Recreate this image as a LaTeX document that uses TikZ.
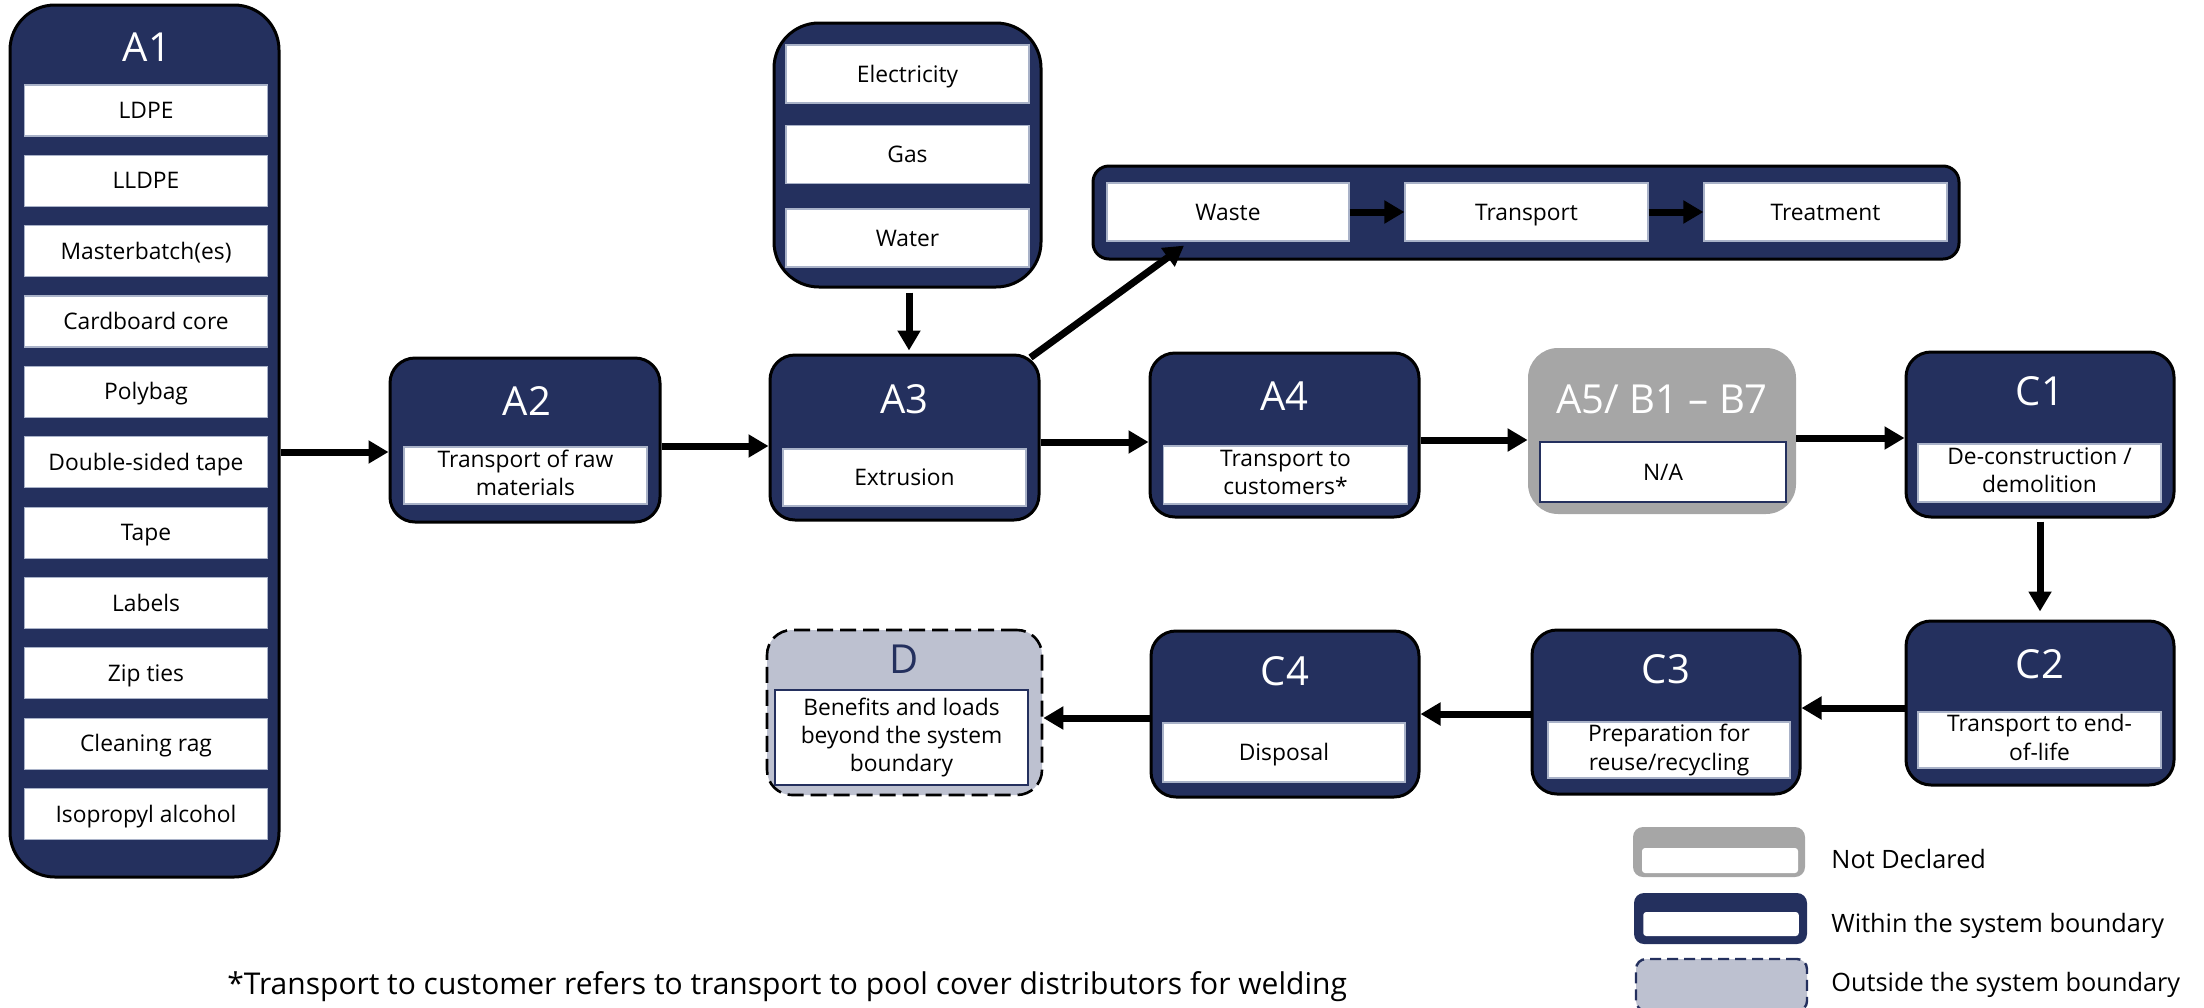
\documentclass[tikz,border=0pt]{standalone}
\usepackage{fontspec}
\setmainfont{Open Sans}
\usetikzlibrary{arrows.meta,calc}
\definecolor{navy}{HTML}{24305E}
\definecolor{ndgray}{HTML}{A6A6A6}
\definecolor{outfill}{HTML}{BDC1D0}
\definecolor{wborder}{HTML}{A9B2C8}
\newcommand\boxstrut{\rule[-2.7pt]{0pt}{13.5pt}}
\begin{document}
\begin{tikzpicture}[x=0.5pt,y=-0.5pt,
  stage/.style={draw=black,line width=1.5pt,fill=navy,rounded corners=12.5pt,inner sep=0pt},
  wbox/.style={draw=wborder,line width=0.6pt,fill=white,inner sep=0pt,align=center,text=black,font=\fontsize{11.4}{14.2}\selectfont,execute at begin node=\boxstrut,execute at end node=\boxstrut},
  nbox/.style={wbox,draw=navy,line width=1.2pt},
  ttl/.style={text=white,inner sep=0pt,anchor=base,font=\fontsize{20}{24}\selectfont},
  arr/.style={line width=3.5pt,-{Triangle[length=10pt,width=11pt]}},
  legtext/.style={anchor=base west,inner sep=0pt,text=black,font=\fontsize{12.65}{15}\selectfont}]
\useasboundingbox (0,0) rectangle (2204,1007);

% A1
\node[stage,rounded corners=22.5pt,minimum width=134.5pt,minimum height=436pt] (A1) at (144.5,441) {};
\node[ttl] (A1t) at (147,61) {A1};
\foreach \t [count=\i] in {LDPE,LLDPE,Masterbatch(es),Cardboard core,Polybag,Double-sided tape,Tape,Labels,Zip ties,Cleaning rag,Isopropyl alcohol}
  \node[wbox,minimum width=121.5pt,minimum height=25.5pt] (A1i\i) at (146,{110.5+70.35*(\i-1)}) {\t};

% utilities
\node[stage,rounded corners=22.5pt,minimum width=133.5pt,minimum height=132pt] (U) at (907.5,155) {};
\node[wbox,minimum width=121.5pt,minimum height=29pt] (U1) at (907.5,74) {Electricity};
\node[wbox,minimum width=121.5pt,minimum height=29pt] (U2) at (907.5,154.5) {Gas};
\node[wbox,minimum width=121.5pt,minimum height=29pt] (U3) at (907.5,238) {Water};

% waste container
\node[stage,rounded corners=8pt,minimum width=433pt,minimum height=46.5pt] (WC) at (1526,212.5) {};
\node[wbox,minimum width=121pt,minimum height=29pt] (W1) at (1228,212) {Waste};
\node[wbox,minimum width=121.5pt,minimum height=29pt] (W2) at (1526.5,212) {Transport};
\node[wbox,minimum width=121.5pt,minimum height=29pt] (W3) at (1825.5,212) {Treatment};

% A2
\node[stage,minimum width=135pt,minimum height=82pt] (A2) at (525,440) {};
\node[ttl] (A2t) at (527,415) {A2};
\node[wbox,minimum width=121.5pt,minimum height=28.5pt] (A2w) at (525.5,475.5) {Transport of raw\\materials};

% A3
\node[stage,minimum width=134.5pt,minimum height=82.5pt] (A3) at (904.5,437.5) {};
\node[ttl] (A3t) at (904.5,413) {A3};
\node[wbox,minimum width=121.5pt,minimum height=28.5pt] (A3w) at (904.5,477.5) {Extrusion};

% A4
\node[stage,minimum width=134.5pt,minimum height=82pt] (A4) at (1284.5,435) {};
\node[ttl] (A4t) at (1284.5,410) {A4};
\node[wbox,minimum width=122pt,minimum height=29pt] (A4w) at (1285.5,475) {Transport to\\customers*};

% A5
\node[fill=ndgray,rounded corners=15pt,inner sep=0pt,minimum width=134pt,minimum height=83pt] (A5) at (1662,431) {};
\node[ttl] (A5t) at (1662,413) {A5/ B1 – B7};
\node[nbox,minimum width=123pt,minimum height=30pt] (A5w) at (1663,472) {N/A};

% C1
\node[stage,minimum width=134pt,minimum height=82.5pt] (C1) at (2040,434.5) {};
\node[ttl] (C1t) at (2040,405) {C1};
\node[wbox,minimum width=121.5pt,minimum height=29pt] (C1w) at (2039.5,473) {De-construction /\\demolition};

% C2
\node[stage,minimum width=134pt,minimum height=82pt] (C2) at (2040,703) {};
\node[ttl] (C2t) at (2040,678) {C2};
\node[wbox,minimum width=121.5pt,minimum height=28pt] (C2w) at (2039.5,740) {Transport to end-\\of-life};

% C3
\node[stage,minimum width=134pt,minimum height=82pt] (C3) at (1666,712) {};
\node[ttl] (C3t) at (1666,683) {C3};
\node[wbox,minimum width=121pt,minimum height=28pt] (C3w) at (1669,750) {Preparation for\\reuse/recycling};

% C4
\node[stage,minimum width=134pt,minimum height=83pt] (C4) at (1285,714) {};
\node[ttl] (C4t) at (1285,685) {C4};
\node[wbox,minimum width=121pt,minimum height=29.5pt] (C4w) at (1284,752.5) {Disposal};

% D
\node[draw=black,line width=1.3pt,dash pattern=on 8pt off 3.5pt,fill=outfill,rounded corners=12.5pt,inner sep=0pt,minimum width=137.5pt,minimum height=82.5pt] (D) at (904.5,712.5) {};
\node[ttl,text=navy] (Dt) at (904.5,673) {D};
\node[nbox,minimum width=126.5pt,minimum height=47.5pt] (Dw) at (901.5,737.5) {Benefits and loads\\beyond the system\\boundary};

% arrows
\draw[arr] ($(A1.east)+(0,11)$) -- ($(A2.west)+(0,12)$);
\draw[arr] ($(A2.east)+(0,6)$) -- ($(A3.west)+(0,8.5)$);
\draw[arr] ($(A3.east)+(0,4.5)$) -- ($(A4.west)+(0,7)$);
\draw[arr] ($(A4.east)+(0,5)$) -- ($(A5.west)+(0,9)$);
\draw[arr] ($(A5.east)+(0,7)$) -- ($(C1.west)+(0,3.5)$);
\draw[arr] ($(C1.south)+(0,3)$) -- ($(C2.north)+(0,-8)$);
\draw[arr] ($(C2.west)+(0,5)$) -- ($(C3.east)+(0,-4)$);
\draw[arr] ($(C3.west)+(0,2)$) -- ($(C4.east)+(0,0)$);
\draw[arr] ($(C4.west)+(0,4)$) -- ($(D.east)+(0,5.5)$);
\draw[arr] ($(U.south)+(1.5,4)$) -- ($(A3.north)+(4.5,-3)$);
\draw[arr] ($(A3.north east)+(-10,4)$) -- ($(W1.south)+(-44,4)$);
\draw[arr] (W1.east) -- (W2.west);
\draw[arr] (W2.east) -- (W3.west);

% legend
\node[fill=ndgray,rounded corners=5pt,inner sep=0pt,minimum width=86pt,minimum height=25pt] (LG1) at (1719,852) {};
\node[fill=white,rounded corners=1.5pt,inner sep=0pt,minimum width=78pt,minimum height=12.5pt] (LG1w) at (1720,860.5) {};
\node[legtext] (LG1t) at (1831,868) {Not Declared};
\node[fill=navy,rounded corners=5pt,inner sep=0pt,minimum width=86.5pt,minimum height=25.5pt] (LG2) at (1720.5,918.5) {};
\node[fill=white,rounded corners=1.5pt,inner sep=0pt,minimum width=77.75pt,minimum height=12pt] (LG2w) at (1721,924) {};
\node[legtext] (LG2t) at (1831,932) {Within the system boundary};
\node[draw=navy,line width=1.2pt,dash pattern=on 5.5pt off 3pt,fill=outfill,rounded corners=5pt,inner sep=0pt,minimum width=85.5pt,minimum height=26pt] (LG3) at (1721.5,985) {};
\node[legtext] (LG3t) at (1831,991) {Outside the system boundary};

% footnote
\node[anchor=base west,inner sep=0pt,font=\fontsize{15}{18}\selectfont] (FN) at (227,994) {*Transport to customer refers to transport to pool cover distributors for welding};
\end{tikzpicture}
\end{document}
